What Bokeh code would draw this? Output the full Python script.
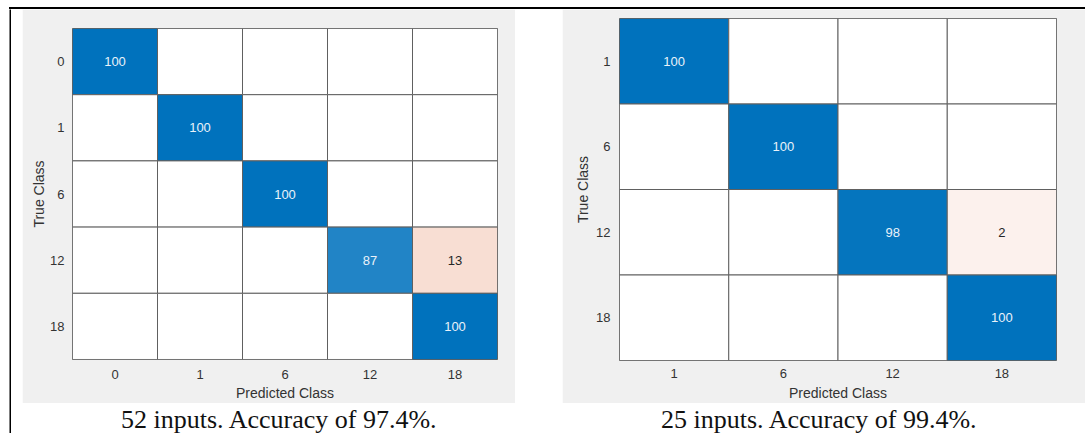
from bokeh.plotting import figure
from bokeh.models import ColumnDataSource, FactorRange, Spacer, Div
from bokeh.layouts import row, column
from bokeh.core.properties import value
from bokeh.embed import file_html
from bokeh.resources import INLINE

# ---- data ----
classes_a = ["0", "1", "6", "12", "18"]
matrix_a = [
    [100, 0, 0, 0, 0],
    [0, 100, 0, 0, 0],
    [0, 0, 100, 0, 0],
    [0, 0, 0, 87, 13],
    [0, 0, 0, 0, 100],
]
caption_a = "52 inputs. Accuracy of 97.4%."

classes_b = ["1", "6", "12", "18"]
matrix_b = [
    [100, 0, 0, 0],
    [0, 100, 0, 0],
    [0, 0, 98, 2],
    [0, 0, 0, 100],
]
caption_b = "25 inputs. Accuracy of 99.4%."

DIAG = (0, 114, 189)
OFF = (217, 83, 25)
FONT = "Liberation Sans"
GRAY_BG = "#f0f0f0"
TXT = "#333333"


def mix(rgb, t):
    t = max(0.0, min(1.0, t))
    r, g, b = (round(255 + (c - 255) * t) for c in rgb)
    return "#%02x%02x%02x" % (r, g, b)


def cells(classes, matrix):
    xs, ys, fills, labels, tcols = [], [], [], [], []
    for i, tc in enumerate(classes):
        for j, pc in enumerate(classes):
            v = matrix[i][j]
            xs.append(pc)
            ys.append(tc)
            if v == 0:
                fills.append("#ffffff")
                labels.append("")
                tcols.append("#262626")
            elif i == j:
                fills.append(mix(DIAG, v / 100))
                labels.append(str(v))
                tcols.append("#eaf2fa")
            else:
                fills.append(mix(OFF, 0.06 + v / 100))
                labels.append(str(v))
                tcols.append("#262626")
    return ColumnDataSource(dict(x=xs, y=ys, fill=fills, label=labels, tc=tcols))


def panel(classes, matrix, width, height, bl, br, bt, bb, ystand, xstand, xlab_stand, ylab_stand):
    p = figure(
        width=width, height=height, title=None,
        x_range=FactorRange(*classes),
        y_range=FactorRange(*list(reversed(classes))),
        toolbar_location=None, output_backend="svg",
        min_border_left=bl, min_border_right=br, min_border_top=bt, min_border_bottom=bb,
    )
    p.border_fill_color = GRAY_BG
    p.background_fill_color = "#ffffff"
    p.outline_line_color = "#606060"
    p.outline_line_width = 1
    p.grid.visible = False
    src = cells(classes, matrix)
    p.rect(x="x", y="y", width=1, height=1, source=src,
           fill_color="fill", line_color="#606060", line_width=1)
    p.text(x="x", y="y", text="label", source=src, text_color="tc",
           text_align="center", text_baseline="middle",
           text_font=value(FONT), text_font_size="13px")
    for ax in (p.xaxis[0], p.yaxis[0]):
        ax.major_tick_line_color = None
        ax.minor_tick_line_color = None
        ax.axis_line_color = None
        ax.major_label_text_font = FONT
        ax.major_label_text_font_size = "13px"
        ax.major_label_text_color = TXT
        ax.axis_label_text_font = FONT
        ax.axis_label_text_font_size = "14px"
        ax.axis_label_text_font_style = "normal"
        ax.axis_label_text_color = TXT
    p.xaxis.axis_label = "Predicted Class"
    p.yaxis.axis_label = "True Class"
    p.xaxis.major_label_standoff = xstand
    p.yaxis.major_label_standoff = ystand
    p.xaxis.axis_label_standoff = xlab_stand
    p.yaxis.axis_label_standoff = ylab_stand
    return p


def caption(text, width):
    c = figure(width=width, height=30, title=text, title_location="above",
               toolbar_location=None, output_backend="svg", min_border=0,
               x_axis_location=None, y_axis_location=None)
    c.border_fill_color = "#ffffff"
    c.background_fill_color = "#ffffff"
    c.outline_line_color = None
    c.grid.visible = False
    t = c.title
    t.text_font = "Liberation Serif"
    t.text_font_size = "26px"
    t.text_font_style = "normal"
    t.text_color = "#111111"
    t.align = "center"
    t.offset = 0
    t.standoff = 0
    return c


def side_rule(height):
    b = figure(width=2, height=height, title=None, toolbar_location=None,
               output_backend="svg", min_border=0,
               x_axis_location=None, y_axis_location=None)
    b.border_fill_color = "#000000"
    b.background_fill_color = "#000000"
    b.outline_line_color = None
    b.grid.visible = False
    return b


fig_a = panel(classes_a, matrix_a, 493, 394, 50, 18, 19, 43, 2, 4, 3, 0)
fig_b = panel(classes_b, matrix_b, 523, 394, 57, 29, 9, 42, 3, 2, 4, 2)
cap_a = row(Spacer(width=21, height=30), caption(caption_a, 472))
cap_b = row(caption(caption_b, 514), Spacer(width=9, height=30))

top_line = Div(text="", width=1076, height=2,
               styles={"background-color": "#000000", "margin": "0", "padding": "0"})

layout = column(
    Spacer(width=1085, height=7),
    row(Spacer(width=9, height=2), top_line),
    row(
        Spacer(width=9, height=424),
        side_rule(424),
        Spacer(width=11, height=424),
        column(fig_a, cap_a),
        Spacer(width=47, height=424),
        column(fig_b, cap_b),
    ),
)

open("out.html", "w").write(file_html(layout, INLINE))
